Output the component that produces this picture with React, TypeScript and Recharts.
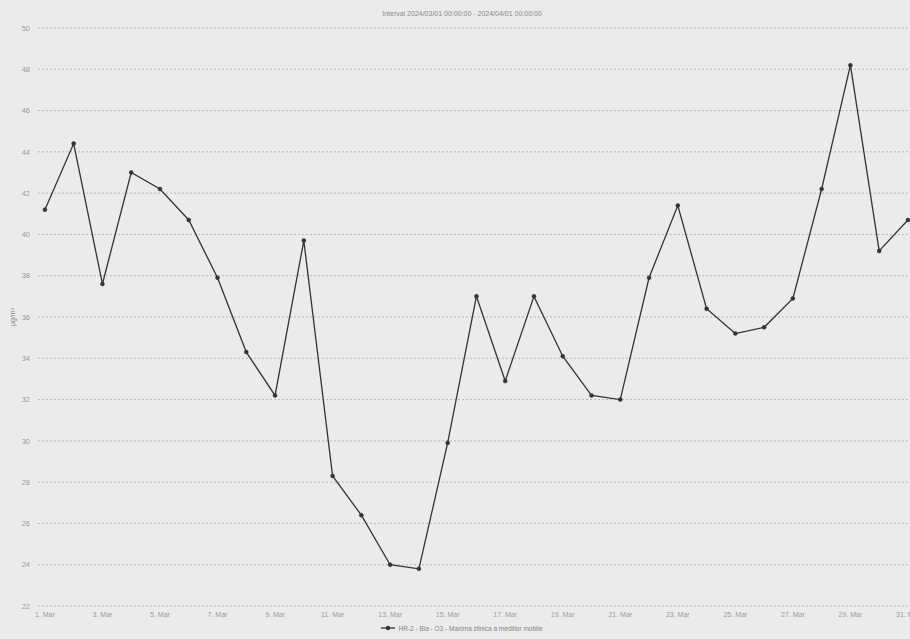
import React from 'react';
import { LineChart, Line, XAxis, YAxis, CartesianGrid, Legend } from 'recharts';

const days = [1, 2, 3, 4, 5, 6, 7, 8, 9, 10, 11, 12, 13, 14, 15, 16, 17, 18, 19, 20, 21, 22, 23, 24, 25, 26, 27, 28, 29, 30, 31];
const values = [41.2, 44.4, 37.6, 43.0, 42.2, 40.7, 37.9, 34.3, 32.2, 39.7, 28.3, 26.4, 24.0, 23.8, 29.9, 37.0, 32.9, 37.0, 34.1, 32.2, 32.0, 37.9, 41.4, 36.4, 35.2, 35.5, 36.9, 42.2, 48.2, 39.2, 40.7];
const xTickDays = [1, 3, 5, 7, 9, 11, 13, 15, 17, 19, 21, 23, 25, 27, 29, 31];
const xTickLabels = ['1. Mar', '3. Mar', '5. Mar', '7. Mar', '9. Mar', '11. Mar', '13. Mar', '15. Mar', '17. Mar', '19. Mar', '21. Mar', '23. Mar', '25. Mar', '27. Mar', '29. Mar', '31. Mar'];
const yTicks = [22, 24, 26, 28, 30, 32, 34, 36, 38, 40, 42, 44, 46, 48, 50];
const seriesName = 'HR-2 - Bia - O3 - Maxima zilnica a mediilor mobile';
const chartTitle = 'Interval 2024/03/01 00:00:00 - 2024/04/01 00:00:00';
const yUnit = 'µg/m³';

const data = days.map((d, i) => ({ day: d, value: values[i] }));

const FONT = '"Liberation Sans", Arial, sans-serif';
const LINE = '#333333';

const LegendContent = () => (
  <div style={{ display: 'flex', justifyContent: 'center', alignItems: 'center', fontFamily: FONT, fontSize: 6.5, color: '#858585' }}>
    <svg width={14} height={8} style={{ marginRight: 3 }}>
      <line x1={0} y1={4} x2={14} y2={4} stroke={LINE} strokeWidth={1.3} />
      <circle cx={7} cy={4} r={2.2} fill={LINE} />
    </svg>
    <span>{seriesName}</span>
  </div>
);

export default function App() {
  return (
    <div style={{ position: 'absolute', left: 0, top: 0, width: 910, height: 639, overflow: 'hidden', background: '#ebebeb' }}>
      <div style={{ position: 'absolute', left: 0, top: 10, width: 924, textAlign: 'center', fontFamily: FONT, fontSize: 7, color: '#8a8a8a' }}>
        {chartTitle}
      </div>
      <LineChart width={924} height={639} data={data} margin={{ top: 28, right: 10, bottom: 13, left: 8 }}>
        <CartesianGrid horizontal vertical={false} stroke="#b8b8b8" strokeDasharray="2 2" />
        <XAxis
          dataKey="day"
          type="number"
          domain={[0.76, 31.21]}
          ticks={xTickDays}
          tickFormatter={(d: number) => xTickLabels[xTickDays.indexOf(d)]}
          height={20}
          tickLine={false}
          tickSize={0}
          tickMargin={6}
          axisLine={false}
          interval={0}
          tick={{ fontSize: 7, fill: '#9a9a9a', fontFamily: FONT }}
        />
        <YAxis
          type="number"
          domain={[22, 50]}
          ticks={yTicks}
          width={30}
          tickLine={false}
          tickSize={0}
          tickMargin={8}
          axisLine={false}
          interval={0}
          tick={{ fontSize: 7.5, fill: '#9a9a9a', fontFamily: FONT }}
          label={{
            content: (p: any) => {
              const vb = p.viewBox || { x: 8, y: 28, width: 30, height: 578 };
              const x = vb.x + 4;
              const y = vb.y + vb.height / 2;
              return (
                <text x={x} y={y} transform={`rotate(-90 ${x} ${y})`} textAnchor="middle" dominantBaseline="central" fontSize={7} fill="#8a8a8a" fontFamily={FONT}>
                  {yUnit}
                </text>
              );
            },
          }}
        />
        <Legend verticalAlign="middle" align="center" layout="horizontal" wrapperStyle={{ top: 624, left: 0, width: 924 }} content={<LegendContent />} />
        <Line
          type="linear"
          dataKey="value"
          name={seriesName}
          stroke={LINE}
          strokeWidth={1.3}
          dot={{ r: 2, fill: LINE, stroke: LINE, strokeWidth: 0.5 }}
          activeDot={false}
          isAnimationActive={false}
        />
      </LineChart>
    </div>
  );
}
